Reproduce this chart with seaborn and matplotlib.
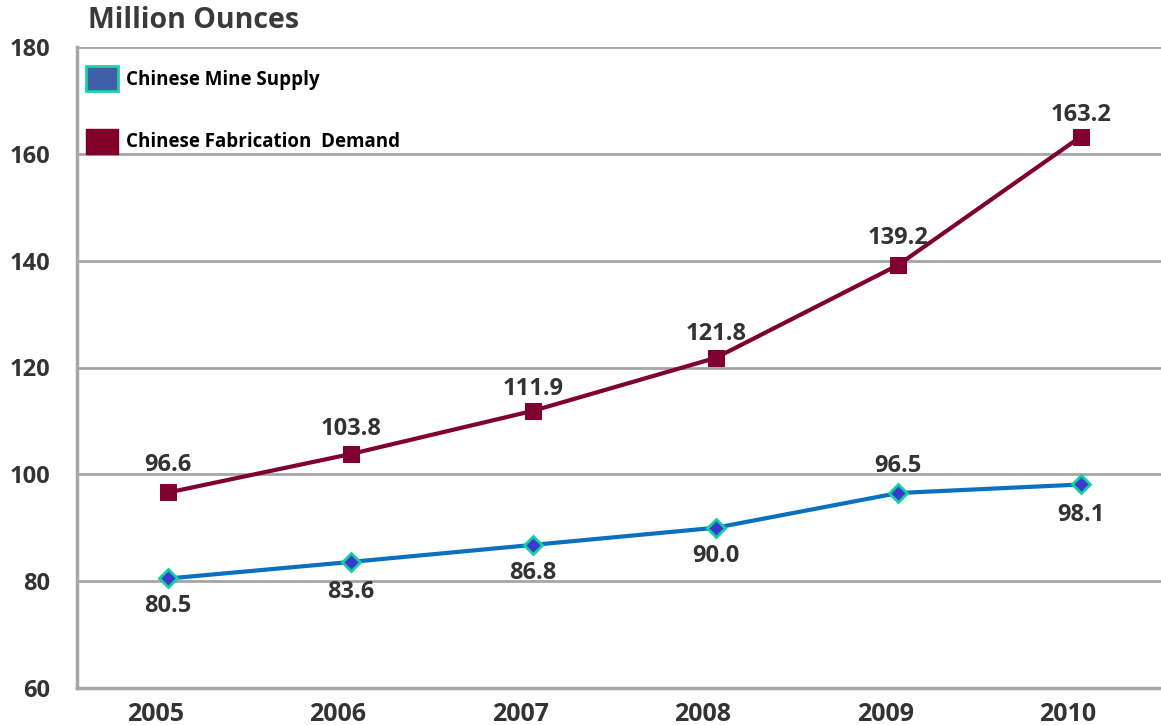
import matplotlib
matplotlib.use("Agg")
import matplotlib.pyplot as plt
import matplotlib.transforms as mtransforms
import seaborn as sns
import pandas as pd
from matplotlib.patches import Patch

years = ["2005", "2006", "2007", "2008", "2009", "2010"]
mine_supply = [80.5, 83.6, 86.8, 90.0, 96.5, 98.1]
fab_demand = [96.6, 103.8, 111.9, 121.8, 139.2, 163.2]
y_ticks = [60, 80, 100, 120, 140, 160, 180]

sns.set_style("white")
plt.rcParams['font.family'] = ['Open Sans', 'DejaVu Sans']

TXT = "#333333"
GRID = "#a6a6a6"
BLUE = "#0a70c0"
RED = "#800030"

df = pd.DataFrame({"year": years, "mine": mine_supply, "fab": fab_demand})
df["x"] = range(len(years))

fig = plt.figure(figsize=(11.61, 7.25), dpi=100)
ax = fig.add_axes([77/1161, 1-688/725, 1-77/1161, (688-47)/725])

sns.lineplot(data=df, x="x", y="fab", ax=ax, color=RED, linewidth=3,
             marker="s", markersize=11, markerfacecolor=RED, markeredgecolor=RED)
sns.lineplot(data=df, x="x", y="mine", ax=ax, color=BLUE, linewidth=3,
             marker="D", markersize=9, markerfacecolor="#3a3ad0",
             markeredgecolor="#10d0a0", markeredgewidth=2)

ax.set_xlim(-0.5, 5.44)
ax.set_ylim(60, 180)
ax.set_yticks(y_ticks)
ax.set_yticklabels([str(t) for t in y_ticks], fontsize=17, fontweight="bold", color=TXT)
ax.set_xticks(range(len(years)))
ax.set_xticklabels(years, fontsize=18, fontweight="bold", color=TXT)
ax.set_xlabel("")
ax.set_ylabel("")
ax.tick_params(axis="y", length=6.5, width=2, color=GRID, pad=13)
ax.tick_params(axis="x", length=0, pad=10)
shift = mtransforms.ScaledTranslation(-13/100, 0, fig.dpi_scale_trans)
for lbl in ax.get_xticklabels():
    lbl.set_transform(lbl.get_transform() + shift)
ax.grid(axis="y", color=GRID, linewidth=2)
ax.set_axisbelow(True)
for s in ["top", "right"]:
    ax.spines[s].set_visible(False)
for s in ["left", "bottom"]:
    ax.spines[s].set_color(GRID)
    ax.spines[s].set_linewidth(2.5)

# data labels (offsets in points)
fab_offsets = [20, 18, 16, 17, 19.5, 16]
for i, v in enumerate(fab_demand):
    ax.annotate(f"{v:.1f}", (i, v), xytext=(0, fab_offsets[i]), textcoords="offset points",
                ha="center", va="center", fontsize=17, fontweight="bold", color=TXT)
mine_offsets = [(0, -20), (0, -21.5), (0, -20), (0, -20), (0, 19.5), (0, -22)]
for i, v in enumerate(mine_supply):
    dx, dy = mine_offsets[i]
    ax.annotate(f"{v:.1f}", (i, v), xytext=(dx, dy), textcoords="offset points",
                ha="center", va="center", fontsize=17, fontweight="bold", color=TXT)

fig.text(88/1161, 1-20/725, "Million Ounces", fontsize=20.5, fontweight="bold",
         color="#3a3a3a", va="center", ha="left")

handles = [Patch(facecolor="#3f5fa8", edgecolor="#20d0a0", linewidth=2, label="Chinese Mine Supply"),
           Patch(facecolor="#800028", edgecolor="#800028", label="Chinese Fabrication  Demand")]
leg = ax.legend(handles=handles, loc="upper left", bbox_to_anchor=(-0.007, 0.997),
                frameon=False, handlelength=1.7, handleheight=1.7, labelspacing=2.0,
                handletextpad=0.4, prop={"size": 13.5, "weight": "bold"})
for t in leg.get_texts():
    t.set_color("black")

fig.savefig("out.png", dpi=100)
